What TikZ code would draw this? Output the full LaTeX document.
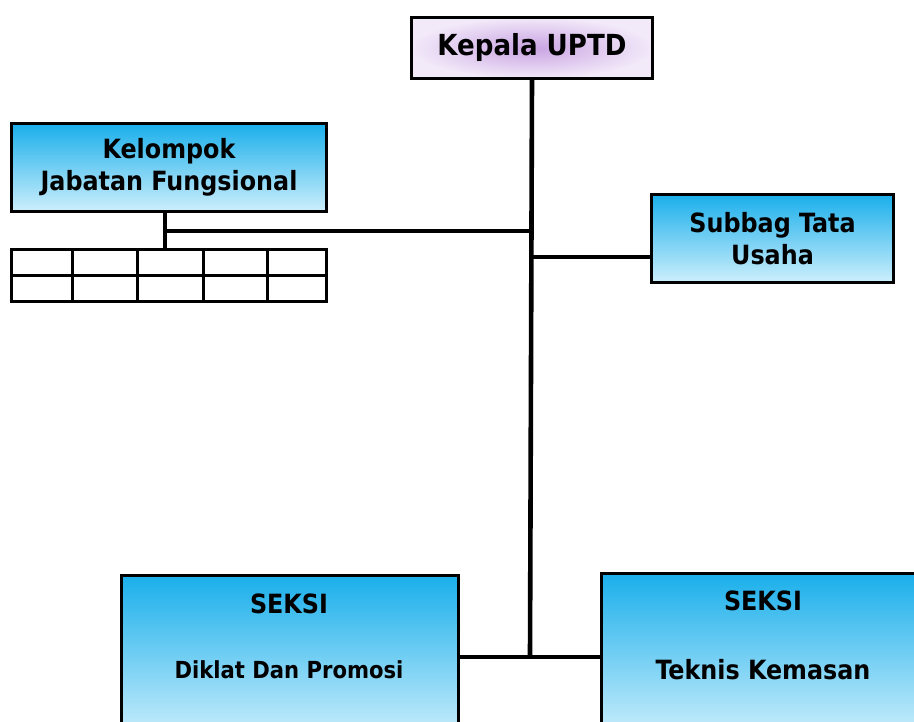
\documentclass[tikz,border=0pt]{standalone}
\usepackage{fontspec}
\setmainfont{DejaVu Sans Condensed}
\definecolor{bluetop}{HTML}{1AAFEB}
\definecolor{bluebot}{HTML}{CDEFFC}
\definecolor{lavout}{HTML}{F2E9F9}
\definecolor{lavin}{HTML}{C9A3E2}
\tikzset{
  box/.style={draw=black, line width=3pt, anchor=north west, inner sep=0pt, align=center},
  bluebox/.style={box, top color=bluetop, bottom color=bluebot},
  conn/.style={draw=black, line width=4.6pt},
  big/.style={font=\fontsize{29}{32}\selectfont\bfseries},
  mid/.style={font=\fontsize{26.5}{32}\selectfont\bfseries},
  small/.style={font=\fontsize{23.5}{28}\selectfont\bfseries},
}
\begin{document}
\begin{tikzpicture}[x=1pt,y=-1pt]
\useasboundingbox (0,0) rectangle (914,722);
\clip (0,0) rectangle (914,722);
% boxes
\node[box, inner color=lavin, outer color=lavout, minimum width=241, minimum height=61, big] (kepala) at (410,16) {Kepala UPTD};
\node[bluebox, minimum width=315, minimum height=88, mid] (kelompok) at (10,122) {Kelompok\\Jabatan Fungsional};
\node[bluebox, minimum width=242, minimum height=88, mid] (subbag) at (650,193) {Subbag Tata\\Usaha};
\node[bluebox, minimum width=337, minimum height=165] (seksiA) at (120,574) {};
\node[bluebox, minimum width=330, minimum height=165] (seksiB) at (600,572) {};
\node[mid] (seksiAt) at (289,604) {SEKSI};
\node[small] (seksiAn) at (289,670) {Diklat Dan Promosi};
\node[mid] (seksiBt) at (763,601) {SEKSI};
\node[mid] (seksiBn) at (763,670) {Teknis Kemasan};
% table
\node[draw=black, line width=3pt, anchor=north west, minimum width=315, minimum height=52, inner sep=0pt] (tbl) at (10,248) {};
\draw[line width=3pt] (tbl.west) -- (tbl.east);
\foreach \xx in {72,137,203,267} \draw[line width=3pt] (tbl.north -| \xx,0) -- (tbl.south -| \xx,0);
% connectors
\coordinate (jb) at (530,657);
\coordinate (jk) at (530,231);
\draw[conn] (kepala.south) -- (jb);
\draw[conn] (kelompok.south -| 165,0) -- (tbl.north -| 165,0);
\draw[conn] (jk -| 165,0) -- (jk);
\draw[conn] (jk |- 0,257) -- (subbag.west |- 0,257);
\draw[conn] (seksiA.east |- jb) -- (seksiB.west |- jb);
\end{tikzpicture}
\end{document}
